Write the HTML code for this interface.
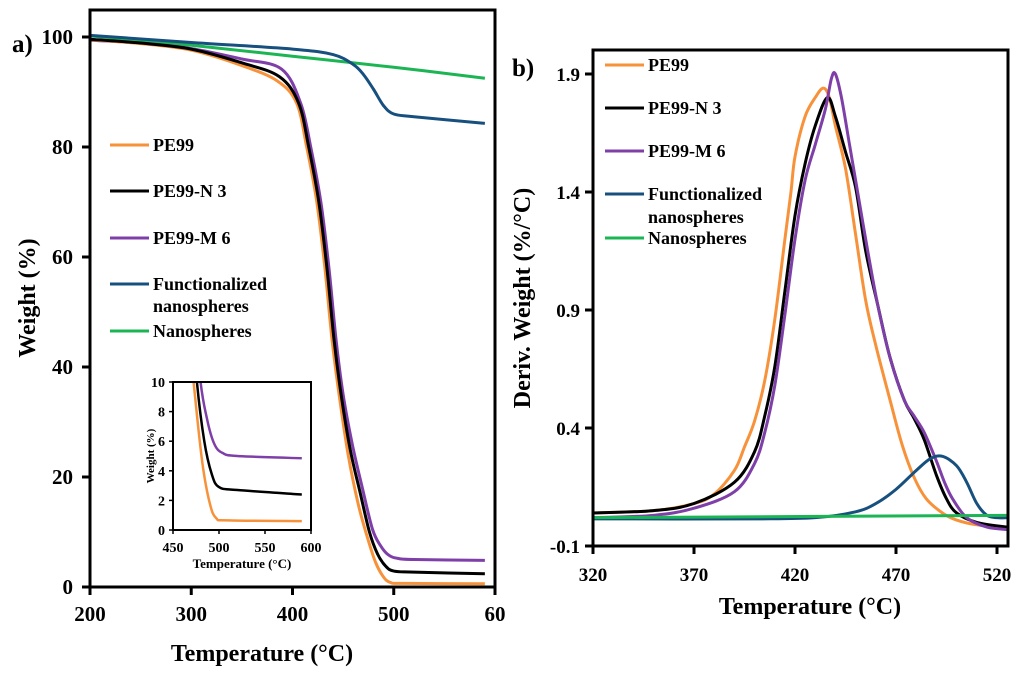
<!DOCTYPE html>
<html><head><meta charset="utf-8"><style>
body{margin:0;background:#fff;}
svg{display:block;font-family:"Liberation Serif",serif;font-weight:bold;}
</style></head><body>
<svg id="c" width="1024" height="673" viewBox="0 0 1024 673"></svg>
<script>
// Left panel (TGA) data: [temperature, weight %]
const tgaPE99=[[200,99.5],[250,98.8],[300,97.6],[350,94.8],[385,92],[404,88],[414,80],[424,70],[432,58],[439,45],[446,35],[455,24],[465,15],[474,9],[482,4.5],[490,1.8],[497,0.8],[510,0.65],[590,0.6]];
const tgaN3=[[200,99.6],[250,98.9],[300,97.8],[350,95.3],[387,92.8],[406,88],[416,80],[426,70],[434,58],[441,45],[448,35],[457,25],[467,17],[476,10],[484,6],[492,3.8],[500,2.9],[520,2.7],[590,2.4]];
const tgaM6=[[200,99.4],[250,98.9],[300,97.9],[350,96],[389,94.2],[408,88],[418,80],[428,70],[436,58],[443,45],[450,35],[459,26],[469,18],[479,10.5],[487,7.5],[495,5.8],[504,5.2],[520,5],[590,4.85]];
const tgaFunc=[[200,100.3],[300,99],[400,97.8],[440,96.8],[460,95],[470,93.2],[480,90.5],[490,87.5],[500,86],[520,85.5],[590,84.3]];
const tgaNano=[[200,100.2],[300,98.5],[400,96.5],[500,94.5],[590,92.5]];
const tgaXTicks=[200,300,400,500,600];
const tgaXLabels=["200","300","400","500","60"];
const tgaYTicks=[0,20,40,60,80,100];
const insetXTicks=[450,500,550,600];
const insetYTicks=[0,2,4,6,8,10];
// Right panel (DTG) data: [temperature, deriv weight]
const dtgPE99=[[320,0.04],[350,0.05],[370,0.08],[380,0.12],[390,0.22],[395,0.32],[400,0.43],[405,0.6],[410,0.86],[415,1.2],[418,1.4],[420,1.55],[425,1.72],[430,1.8],[434,1.84],[437,1.8],[440,1.68],[445,1.5],[450,1.22],[455,0.94],[460,0.75],[467,0.52],[473,0.33],[479,0.19],[485,0.1],[493,0.04],[500,0.01],[510,-0.01],[525,-0.02]];
const dtgN3=[[320,0.04],[350,0.05],[370,0.08],[390,0.17],[400,0.3],[405,0.45],[410,0.66],[415,0.98],[420,1.3],[425,1.52],[430,1.68],[436,1.8],[440,1.72],[445,1.57],[450,1.42],[455,1.15],[461,0.92],[467,0.7],[474,0.52],[479,0.44],[484,0.35],[490,0.2],[495,0.1],[500,0.04],[510,0],[525,-0.02]];
const dtgM6=[[320,0.02],[350,0.03],[370,0.06],[390,0.13],[400,0.25],[405,0.38],[410,0.58],[415,0.88],[420,1.2],[425,1.45],[430,1.6],[435,1.75],[438,1.88],[440,1.9],[443,1.8],[447,1.6],[451,1.4],[456,1.15],[461,0.92],[467,0.7],[474,0.52],[479,0.45],[484,0.38],[490,0.26],[494,0.17],[498,0.1],[505,0.02],[515,-0.02],[525,-0.03]];
const dtgFunc=[[320,0.015],[400,0.015],[430,0.02],[450,0.045],[460,0.08],[470,0.14],[480,0.22],[487,0.27],[493,0.28],[500,0.24],[505,0.17],[510,0.08],[515,0.03],[520,0.02],[525,0.02]];
const dtgNano=[[320,0.02],[525,0.03]];
const dtgXTicks=[320,370,420,470,520];
const dtgYTicks=[-0.1,0.4,0.9,1.4,1.9];

const C={pe:"#f7923a",n3:"#000",m6:"#7f3fa8",fn:"#17507e",na:"#1cb554"};
const svg=document.getElementById('c');
const NS="http://www.w3.org/2000/svg";
function mk(tag,at,parent){const e=document.createElementNS(NS,tag);for(const k in at)e.setAttribute(k,at[k]);(parent||svg).appendChild(e);return e;}
function txt(s,at,parent){const e=mk('text',at,parent);e.textContent=s;return e;}
function smooth(pts){let d="M"+pts[0][0]+","+pts[0][1];for(let i=0;i<pts.length-1;i++){const p0=pts[i-1]||pts[i],p1=pts[i],p2=pts[i+1],p3=pts[i+2]||p2;d+=" C"+(p1[0]+(p2[0]-p0[0])/6)+","+(p1[1]+(p2[1]-p0[1])/6)+" "+(p2[0]-(p3[0]-p1[0])/6)+","+(p2[1]-(p3[1]-p1[1])/6)+" "+p2[0]+","+p2[1];}return d;}
function series(data,xs,ys,color,name,parent,w){const p=mk('path',{d:smooth(data.map(d=>[xs(d[0]),ys(d[1])])),fill:"none",stroke:color,"stroke-width":w||3,"stroke-linejoin":"round"},parent);

}

// ---- Left panel
const lx=t=>90+(t-200)*405/400, ly=w=>587-w*5.5;
const defs=mk('defs',{});
const cp=mk('clipPath',{id:'lclip'},defs);mk('rect',{x:90,y:10,width:405,height:577},cp);
const cpi=mk('clipPath',{id:'iclip'},defs);mk('rect',{x:173,y:382,width:138,height:148},cpi);
const gL=mk('g',{'clip-path':'url(#lclip)'});

series(tgaNano,lx,ly,C.na,'tga-nanospheres-line',gL);
series(tgaFunc,lx,ly,C.fn,'tga-functionalized-line',gL);
series(tgaM6,lx,ly,C.m6,'tga-pe99-m6-line',gL);
series(tgaPE99,lx,ly,C.pe,'tga-pe99-line',gL);
series(tgaN3,lx,ly,C.n3,'tga-pe99-n3-line',gL);
const lf=mk('rect',{x:90,y:10,width:405,height:577,fill:"none",stroke:"#000","stroke-width":3});

tgaXTicks.forEach((t,i)=>{mk('line',{x1:lx(t),x2:lx(t),y1:587,y2:595,stroke:"#000","stroke-width":3});
const e=txt(tgaXLabels[i],{x:lx(t),y:621,"text-anchor":"middle","font-size":21});});
tgaYTicks.forEach(v=>{mk('line',{x1:82,x2:90,y1:ly(v),y2:ly(v),stroke:"#000","stroke-width":3});
const e=txt(String(v),{x:73,y:ly(v)+7,"text-anchor":"end","font-size":21});});
let e=txt("Temperature (°C)",{x:262,y:661,"text-anchor":"middle","font-size":24});
e=txt("Weight (%)",{x:0,y:0,"text-anchor":"middle","font-size":24,transform:"translate(35,298) rotate(-90)"});
e=txt("a)",{x:12,y:52,"font-size":25});
// left legend
const legL=[["PE99",C.pe,145],["PE99-N 3",C.n3,191],["PE99-M 6",C.m6,238],["Functionalized",C.fn,284,"nanospheres"],["Nanospheres",C.na,331]];
legL.forEach(l=>{const g=mk('g',{});
mk('line',{x1:110,x2:149,y1:l[2],y2:l[2],stroke:l[1],"stroke-width":3},g);
txt(l[0],{x:153,y:l[2]+6,"font-size":18},g);if(l[3])txt(l[3],{x:153,y:l[2]+28,"font-size":18},g);});
// inset
const ix=t=>173+(t-450)*138/150, iy=w=>530-w*14.8;
const gI=mk('g',{});
mk('rect',{x:173,y:382,width:138,height:148,fill:"#fff"},gI);
const gIc=mk('g',{'clip-path':'url(#iclip)'},gI);
series(tgaM6,ix,iy,C.m6,'inset-pe99-m6-line',gIc,2.5);
series(tgaN3,ix,iy,C.n3,'inset-pe99-n3-line',gIc,2.5);
series(tgaPE99,ix,iy,C.pe,'inset-pe99-line',gIc,2.5);
mk('rect',{x:173,y:382,width:138,height:148,fill:"none",stroke:"#000","stroke-width":2},gI);
insetXTicks.forEach(t=>{mk('line',{x1:ix(t),x2:ix(t),y1:530,y2:534,stroke:"#000","stroke-width":1.5},gI);txt(String(t),{x:ix(t),y:552,"text-anchor":"middle","font-size":14},gI);});
insetYTicks.forEach(v=>{mk('line',{x1:169,x2:173,y1:iy(v),y2:iy(v),stroke:"#000","stroke-width":1.5},gI);txt(String(v),{x:165,y:iy(v)+5,"text-anchor":"end","font-size":14},gI);});
txt("Temperature (°C)",{x:242,y:568,"text-anchor":"middle","font-size":13},gI);
txt("Weight (%)",{x:0,y:0,"text-anchor":"middle","font-size":11,transform:"translate(154,456) rotate(-90)"},gI);

// ---- Right panel
const rx=t=>593+(t-320)*2.02, ry=v=>546-(v+0.1)*236;
const cpr=mk('clipPath',{id:'rclip'},defs);mk('rect',{x:593,y:50,width:415,height:496},cpr);
const gR=mk('g',{'clip-path':'url(#rclip)'});

series(dtgPE99,rx,ry,C.pe,'dtg-pe99-line',gR);
series(dtgN3,rx,ry,C.n3,'dtg-pe99-n3-line',gR);
series(dtgM6,rx,ry,C.m6,'dtg-pe99-m6-line',gR);
series(dtgFunc,rx,ry,C.fn,'dtg-functionalized-line',gR);
series(dtgNano,rx,ry,C.na,'dtg-nanospheres-line',gR);
const rf=mk('rect',{x:593,y:50,width:415,height:496,fill:"none",stroke:"#000","stroke-width":3});

dtgXTicks.forEach(t=>{mk('line',{x1:rx(t),x2:rx(t),y1:546,y2:554,stroke:"#000","stroke-width":3});
const e=txt(String(t),{x:rx(t),y:581,"text-anchor":"middle","font-size":19});});
dtgYTicks.forEach(v=>{mk('line',{x1:585,x2:593,y1:ry(v),y2:ry(v),stroke:"#000","stroke-width":3});
const e=txt(v.toFixed(1),{x:580,y:ry(v)+7,"text-anchor":"end","font-size":19});});
e=txt("Temperature (°C)",{x:810,y:614,"text-anchor":"middle","font-size":24});
e=txt("Deriv. Weight (%/°C)",{x:0,y:0,"text-anchor":"middle","font-size":24,transform:"translate(530,298) rotate(-90)"});
e=txt("b)",{x:512,y:76,"font-size":25});
const legR=[["PE99",C.pe,65],["PE99-N 3",C.n3,108],["PE99-M 6",C.m6,151],["Functionalized",C.fn,194,"nanospheres"],["Nanospheres",C.na,238]];
legR.forEach(l=>{const g=mk('g',{});
mk('line',{x1:605,x2:644,y1:l[2],y2:l[2],stroke:l[1],"stroke-width":3},g);
txt(l[0],{x:648,y:l[2]+6,"font-size":18},g);if(l[3])txt(l[3],{x:648,y:l[2]+29,"font-size":18},g);});
</script>
</body></html>
